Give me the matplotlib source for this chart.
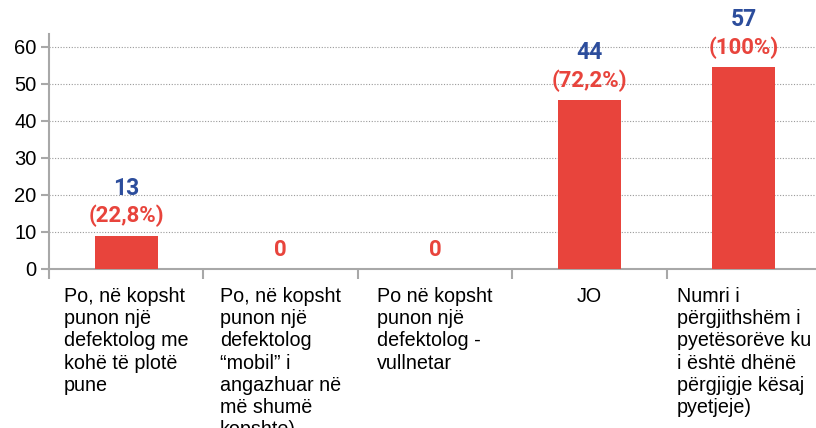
import matplotlib.pyplot as plt

# Kategoritë e përgjigjeve
categories = [
    "Po, në kopsht\npunon një\ndefektolog me\nkohë të plotë\npune",
    "Po, në kopsht\npunon një\ndefektolog\n\u201cmobil\u201d i\nangazhuar në\nmë shumë\nkopshte)",
    "Po në kopsht\npunon një\ndefektolog -\nvullnetar",
    "JO",
    "Numri i\npërgjithshëm i\npyetësorëve ku\ni është dhënë\npërgjigje kësaj\npyetjeje)",
]
# lartësitë e shtyllave siç janë vizatuar
bar_heights = [9, 0, 0, 45.7, 54.6]
# etiketat mbi shtylla
count_labels = ["13", "", "", "44", "57"]
pct_labels = ["(22,8%)", "0", "0", "(72,2%)", "(100%)"]
y_ticks = [0, 10, 20, 30, 40, 50, 60]

RED = '#e8443c'
BLUE = '#2c4d9c'
GREY = '#a8a8a8'

fig = plt.figure(figsize=(8.16, 4.28), dpi=100)
ax = fig.add_axes([0.060, 0.3715, 0.946, 0.549])

x = list(range(len(categories)))
ax.bar(x, bar_heights, width=0.41, color=RED, zorder=3)

ax.set_xlim(-0.5, len(categories) - 0.5)
ax.set_ylim(0, 63.5)

# rrjeti horizontal me pika
ax.set_yticks(y_ticks)
ax.set_yticklabels([str(t) for t in y_ticks], fontsize=14.5, family='Liberation Sans')
for t in y_ticks[1:]:
    ax.axhline(t, color='#9a9a9a', linestyle=(0, (1, 1.5)), linewidth=0.8, zorder=1)

# vijat ndarëse poshtë boshtit x
ax.set_xticks([i - 0.5 for i in range(len(categories) + 1)])
ax.set_xticklabels([])
ax.tick_params(axis='x', length=7, width=1.5, color=GREY, direction='out')
ax.tick_params(axis='y', length=6, width=1.5, color=GREY, direction='out', pad=3)

for side in ['top', 'right']:
    ax.spines[side].set_visible(False)
for side in ['left', 'bottom']:
    ax.spines[side].set_color(GREY)
    ax.spines[side].set_linewidth(1.5)

# emërtimet e kategorive
for i, lab in enumerate(categories):
    ax.annotate(lab, xy=(i, 0), xycoords=('data', 'data'),
                xytext=(0, -13), textcoords='offset points',
                ha='center', va='top', multialignment='left',
                fontsize=14.2, family='Liberation Sans', linespacing=1.21,
                annotation_clip=False)

# vlerat mbi shtylla
for i, h in enumerate(bar_heights):
    ax.annotate(pct_labels[i], xy=(i, h), xytext=(0, 14), textcoords='offset points',
                ha='center', va='center', color=RED, fontsize=16,
                fontweight='bold', family='Roboto')
    if count_labels[i]:
        ax.annotate(count_labels[i], xy=(i, h), xytext=(0, 34), textcoords='offset points',
                    ha='center', va='center', color=BLUE, fontsize=16.5,
                    fontweight='bold', family='Roboto')

fig.savefig('out.png', dpi=100, facecolor='white')
